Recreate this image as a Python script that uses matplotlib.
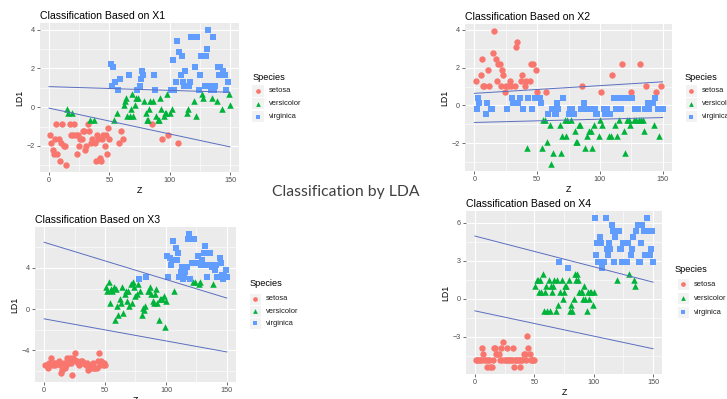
import numpy as np
import matplotlib
matplotlib.use("Agg")
import matplotlib.pyplot as plt
from matplotlib.patches import Rectangle
from matplotlib.lines import Line2D

# ---- iris measurements (rows 1..150) ----
sepal_length = [
    5.1, 4.9, 4.7, 4.6, 5.0, 5.4, 4.6, 5.0, 4.4, 4.9, 5.4, 4.8, 4.8, 4.3, 5.8, 5.7, 5.4, 5.1, 5.7, 5.1,
    5.4, 5.1, 4.6, 5.1, 4.8, 5.0, 5.0, 5.2, 5.2, 4.7, 4.8, 5.4, 5.2, 5.5, 4.9, 5.0, 5.5, 4.9, 4.4, 5.1,
    5.0, 4.5, 4.4, 5.0, 5.1, 4.8, 5.1, 4.6, 5.3, 5.0,
    7.0, 6.4, 6.9, 5.5, 6.5, 5.7, 6.3, 4.9, 6.6, 5.2, 5.0, 5.9, 6.0, 6.1, 5.6, 6.7, 5.6, 5.8, 6.2, 5.6,
    5.9, 6.1, 6.3, 6.1, 6.4, 6.6, 6.8, 6.7, 6.0, 5.7, 5.5, 5.5, 5.8, 6.0, 5.4, 6.0, 6.7, 6.3, 5.6, 5.5,
    5.5, 6.1, 5.8, 5.0, 5.6, 5.7, 5.7, 6.2, 5.1, 5.7,
    6.3, 5.8, 7.1, 6.3, 6.5, 7.6, 4.9, 7.3, 6.7, 7.2, 6.5, 6.4, 6.8, 5.7, 5.8, 6.4, 6.5, 7.7, 7.7, 6.0,
    6.9, 5.6, 7.7, 6.3, 6.7, 7.2, 6.2, 6.1, 6.4, 7.2, 7.4, 7.9, 6.4, 6.3, 6.1, 7.7, 6.3, 6.4, 6.0, 6.9,
    6.7, 6.9, 5.8, 6.8, 6.7, 6.7, 6.3, 6.5, 6.2, 5.9]
sepal_width = [
    3.5, 3.0, 3.2, 3.1, 3.6, 3.9, 3.4, 3.4, 2.9, 3.1, 3.7, 3.4, 3.0, 3.0, 4.0, 4.4, 3.9, 3.5, 3.8, 3.8,
    3.4, 3.7, 3.6, 3.3, 3.4, 3.0, 3.4, 3.5, 3.4, 3.2, 3.1, 3.4, 4.1, 4.2, 3.1, 3.2, 3.5, 3.6, 3.0, 3.4,
    3.5, 2.3, 3.2, 3.5, 3.8, 3.0, 3.8, 3.2, 3.7, 3.3,
    3.2, 3.2, 3.1, 2.3, 2.8, 2.8, 3.3, 2.4, 2.9, 2.7, 2.0, 3.0, 2.2, 2.9, 2.9, 3.1, 3.0, 2.7, 2.2, 2.5,
    3.2, 2.8, 2.5, 2.8, 2.9, 3.0, 2.8, 3.0, 2.9, 2.6, 2.4, 2.4, 2.7, 2.7, 3.0, 3.4, 3.1, 2.3, 3.0, 2.5,
    2.6, 3.0, 2.6, 2.3, 2.7, 3.0, 2.9, 2.9, 2.5, 2.8,
    3.3, 2.7, 3.0, 2.9, 3.0, 3.0, 2.5, 2.9, 2.5, 3.6, 3.2, 2.7, 3.0, 2.5, 2.8, 3.2, 3.0, 3.8, 2.6, 2.2,
    3.2, 2.8, 2.8, 2.7, 3.3, 3.2, 2.8, 3.0, 2.8, 3.0, 2.8, 3.8, 2.8, 2.8, 2.6, 3.0, 3.4, 3.1, 3.0, 3.1,
    3.1, 3.1, 2.7, 3.2, 3.3, 3.0, 2.5, 3.0, 3.4, 3.0]
petal_length = [
    1.4, 1.4, 1.3, 1.5, 1.4, 1.7, 1.4, 1.5, 1.4, 1.5, 1.5, 1.6, 1.4, 1.1, 1.2, 1.5, 1.3, 1.4, 1.7, 1.5,
    1.7, 1.5, 1.0, 1.7, 1.9, 1.6, 1.6, 1.5, 1.4, 1.6, 1.6, 1.5, 1.5, 1.4, 1.5, 1.2, 1.3, 1.4, 1.3, 1.5,
    1.3, 1.3, 1.3, 1.6, 1.9, 1.4, 1.6, 1.4, 1.5, 1.4,
    4.7, 4.5, 4.9, 4.0, 4.6, 4.5, 4.7, 3.3, 4.6, 3.9, 3.5, 4.2, 4.0, 4.7, 3.6, 4.4, 4.5, 4.1, 4.5, 3.9,
    4.8, 4.0, 4.9, 4.7, 4.3, 4.4, 4.8, 5.0, 4.5, 3.5, 3.8, 3.7, 3.9, 5.1, 4.5, 4.5, 4.7, 4.4, 4.1, 4.0,
    4.4, 4.6, 4.0, 3.3, 4.2, 4.2, 4.2, 4.3, 3.0, 4.1,
    6.0, 5.1, 5.9, 5.6, 5.8, 6.6, 4.5, 6.3, 5.8, 6.1, 5.1, 5.3, 5.5, 5.0, 5.1, 5.3, 5.5, 6.7, 6.9, 5.0,
    5.7, 4.9, 6.7, 4.9, 5.7, 6.0, 4.8, 4.9, 5.6, 5.8, 6.1, 6.4, 5.6, 5.1, 5.6, 6.1, 5.6, 5.5, 4.8, 5.4,
    5.6, 5.1, 5.1, 5.9, 5.7, 5.2, 5.0, 5.2, 5.4, 5.1]
petal_width = [
    0.2, 0.2, 0.2, 0.2, 0.2, 0.4, 0.3, 0.2, 0.2, 0.1, 0.2, 0.2, 0.1, 0.1, 0.2, 0.4, 0.4, 0.3, 0.3, 0.3,
    0.2, 0.4, 0.2, 0.5, 0.2, 0.2, 0.4, 0.2, 0.2, 0.2, 0.2, 0.4, 0.1, 0.2, 0.2, 0.2, 0.2, 0.1, 0.2, 0.2,
    0.3, 0.3, 0.2, 0.6, 0.4, 0.3, 0.2, 0.2, 0.2, 0.2,
    1.4, 1.5, 1.5, 1.3, 1.5, 1.3, 1.6, 1.0, 1.3, 1.4, 1.0, 1.5, 1.0, 1.4, 1.3, 1.4, 1.5, 1.0, 1.5, 1.1,
    1.8, 1.3, 1.5, 1.2, 1.3, 1.4, 1.4, 1.7, 1.5, 1.0, 1.1, 1.0, 1.2, 1.6, 1.5, 1.6, 1.5, 1.3, 1.3, 1.3,
    1.2, 1.4, 1.2, 1.0, 1.3, 1.2, 1.3, 1.3, 1.1, 1.3,
    2.5, 1.9, 2.1, 1.8, 2.2, 2.1, 1.7, 1.8, 1.8, 2.5, 2.0, 1.9, 2.1, 2.0, 2.4, 2.3, 1.8, 2.2, 2.3, 1.5,
    2.3, 2.0, 2.0, 1.8, 2.1, 1.8, 1.8, 1.8, 2.1, 1.6, 1.9, 2.0, 2.2, 1.5, 1.4, 2.3, 2.4, 1.8, 1.8, 2.1,
    2.4, 2.3, 1.9, 2.3, 2.5, 2.3, 1.9, 2.0, 2.3, 1.8]
species_names = ["setosa", "versicolor", "virginica"]
species_size = 50

# ---- per-panel settings ----
panel_titles = ["Classification Based on X1", "Classification Based on X2",
                "Classification Based on X3", "Classification Based on X4"]
# LD1 cut points and the predicted class in each interval (low -> high)
class_cuts = [[-0.72, 0.81], [-0.60, 0.55], [-2.08, 2.77], [-2.0, 2.2]]
class_order = [["setosa", "versicolor", "virginica"],
               ["versicolor", "virginica", "setosa"],
               ["setosa", "versicolor", "virginica"],
               ["setosa", "versicolor", "virginica"]]
# boundary lines: LD1 at Z = 0 and Z = 150
line_z = [0, 150]
upper_line = [[1.06, 0.77], [0.64, 1.25], [6.50, 1.07], [4.96, 1.31]]
lower_line = [[-0.05, -2.05], [-0.90, -0.64], [-0.95, -4.17], [-0.96, -3.96]]
y_ticks = [[-2, 0, 2, 4], [-2, 0, 2, 4], [-4, 0, 4], [-3, 0, 3, 6]]
x_ticks = [0, 50, 100, 150]
main_title = "Classification by LDA"

colors = {"setosa": "#F8766D", "versicolor": "#00B33A", "virginica": "#619CFF"}
markers = {"setosa": "o", "versicolor": "^", "virginica": "s"}
msize = {"setosa": 21, "versicolor": 22, "virginica": 17}

W, H = 727, 399
fig = plt.figure(figsize=(W / 100, H / 100), dpi=100)
fig.patch.set_facecolor("white")
FONT = "Liberation Sans"

# panel boxes in pixels: left, top, right, bottom
boxes = [(40, 23, 239, 172), (465, 24, 672, 171), (35, 227, 236, 382), (466, 211, 662, 374)]
# legend anchors in pixels: title x, title y, key x, first entry y, step
legend_pos = [(253, 78, 258, 91, 12.8), (685, 77, 691, 91, 12.8),
              (250, 284, 255, 299, 12.2), (675, 270, 683, 284, 14.0)]

measures = [sepal_length, sepal_width, petal_length, petal_width]
labels = np.repeat(species_names, species_size)
z = np.arange(1, len(labels) + 1)


def fx(px):
    return px / W


def fy(py):
    return 1 - py / H


for i, values in enumerate(measures):
    v = np.asarray(values)
    # single-variable LDA score: centred on the mean of group means, scaled by pooled within-group sd
    group_means = [v[labels == s].mean() for s in species_names]
    pooled_var = np.mean([v[labels == s].var(ddof=1) for s in species_names])
    ld1 = (v - np.mean(group_means)) / np.sqrt(pooled_var)
    pred = np.array(class_order[i])[np.digitize(ld1, class_cuts[i])]

    l, t, r, b = boxes[i]
    ax = fig.add_axes([fx(l), fy(b), (r - l) / W, (b - t) / H])
    ax.set_facecolor("#EBEBEB")
    for sp in ax.spines.values():
        sp.set_visible(False)

    ymin = min(ld1.min(), min(lower_line[i]), min(upper_line[i]))
    ymax = max(ld1.max(), max(lower_line[i]), max(upper_line[i]))
    pad = 0.05 * (ymax - ymin)

    yt = y_ticks[i]
    step = yt[1] - yt[0]
    ext = [yt[0] - step] + yt + [yt[-1] + step]
    minor_y = [(a + c) / 2 for a, c in zip(ext[:-1], ext[1:])]
    minor_y = [m for m in minor_y if ymin - pad < m < ymax + pad]
    ax.set_xticks(x_ticks)
    ax.set_xticks([-25, 25, 75, 125], minor=True)
    ax.set_yticks(yt)
    ax.set_yticks(minor_y, minor=True)
    ax.set_xlim(-7.5, 157.5)
    ax.set_ylim(ymin - pad, ymax + pad)
    ax.grid(which="major", color="white", linewidth=0.8)
    ax.grid(which="minor", color="white", linewidth=0.4)
    ax.set_axisbelow(True)
    ax.tick_params(which="major", length=2, width=0.5, color="#333333",
                   labelsize=5.2, labelcolor="#4D4D4D", pad=1.5)
    ax.tick_params(which="minor", length=0)
    for lab in ax.get_xticklabels() + ax.get_yticklabels():
        lab.set_fontfamily(FONT)

    for s in species_names:
        m = pred == s
        ax.scatter(z[m], ld1[m], s=msize[s], marker=markers[s], c=colors[s],
                   linewidths=0, zorder=3)
    ax.plot(line_z, upper_line[i], color="#5A6EC0", linewidth=0.7, zorder=4)
    ax.plot(line_z, lower_line[i], color="#5A6EC0", linewidth=0.7, zorder=4)

    ax.set_title(panel_titles[i], loc="left", fontsize=7.6, family=FONT, pad=3, color="black")
    ax.set_xlabel("Z", fontsize=6.3, family=FONT, labelpad=1.5)
    ax.set_ylabel("LD1", fontsize=6.3, family=FONT, labelpad=2)

    # legend drawn with light key backgrounds
    tx, ty, kx, ey, dy = legend_pos[i]
    fig.text(fx(tx), fy(ty), "Species", fontsize=6.6, family=FONT, va="center", ha="left")
    for j, s in enumerate(species_names):
        yy = ey + j * dy
        fig.add_artist(Rectangle((fx(kx - 5.5), fy(yy + 5.5)), 11 / W, 11 / H,
                                 transform=fig.transFigure, facecolor="#F2F2F2",
                                 edgecolor="none"))
        fig.add_artist(Line2D([fx(kx)], [fy(yy)], transform=fig.transFigure,
                              marker=markers[s], markersize=3.4, color=colors[s],
                              markeredgewidth=0, linestyle="none"))
        fig.text(fx(kx + 11), fy(yy), s, fontsize=5.4, family=FONT, va="center",
                 ha="left", color="#1A1A1A")

fig.text(fx(272), fy(196.5), main_title, fontsize=11.3, family="Lato",
         color="#404040", ha="left", va="baseline")

fig.savefig("out.png", dpi=100)
